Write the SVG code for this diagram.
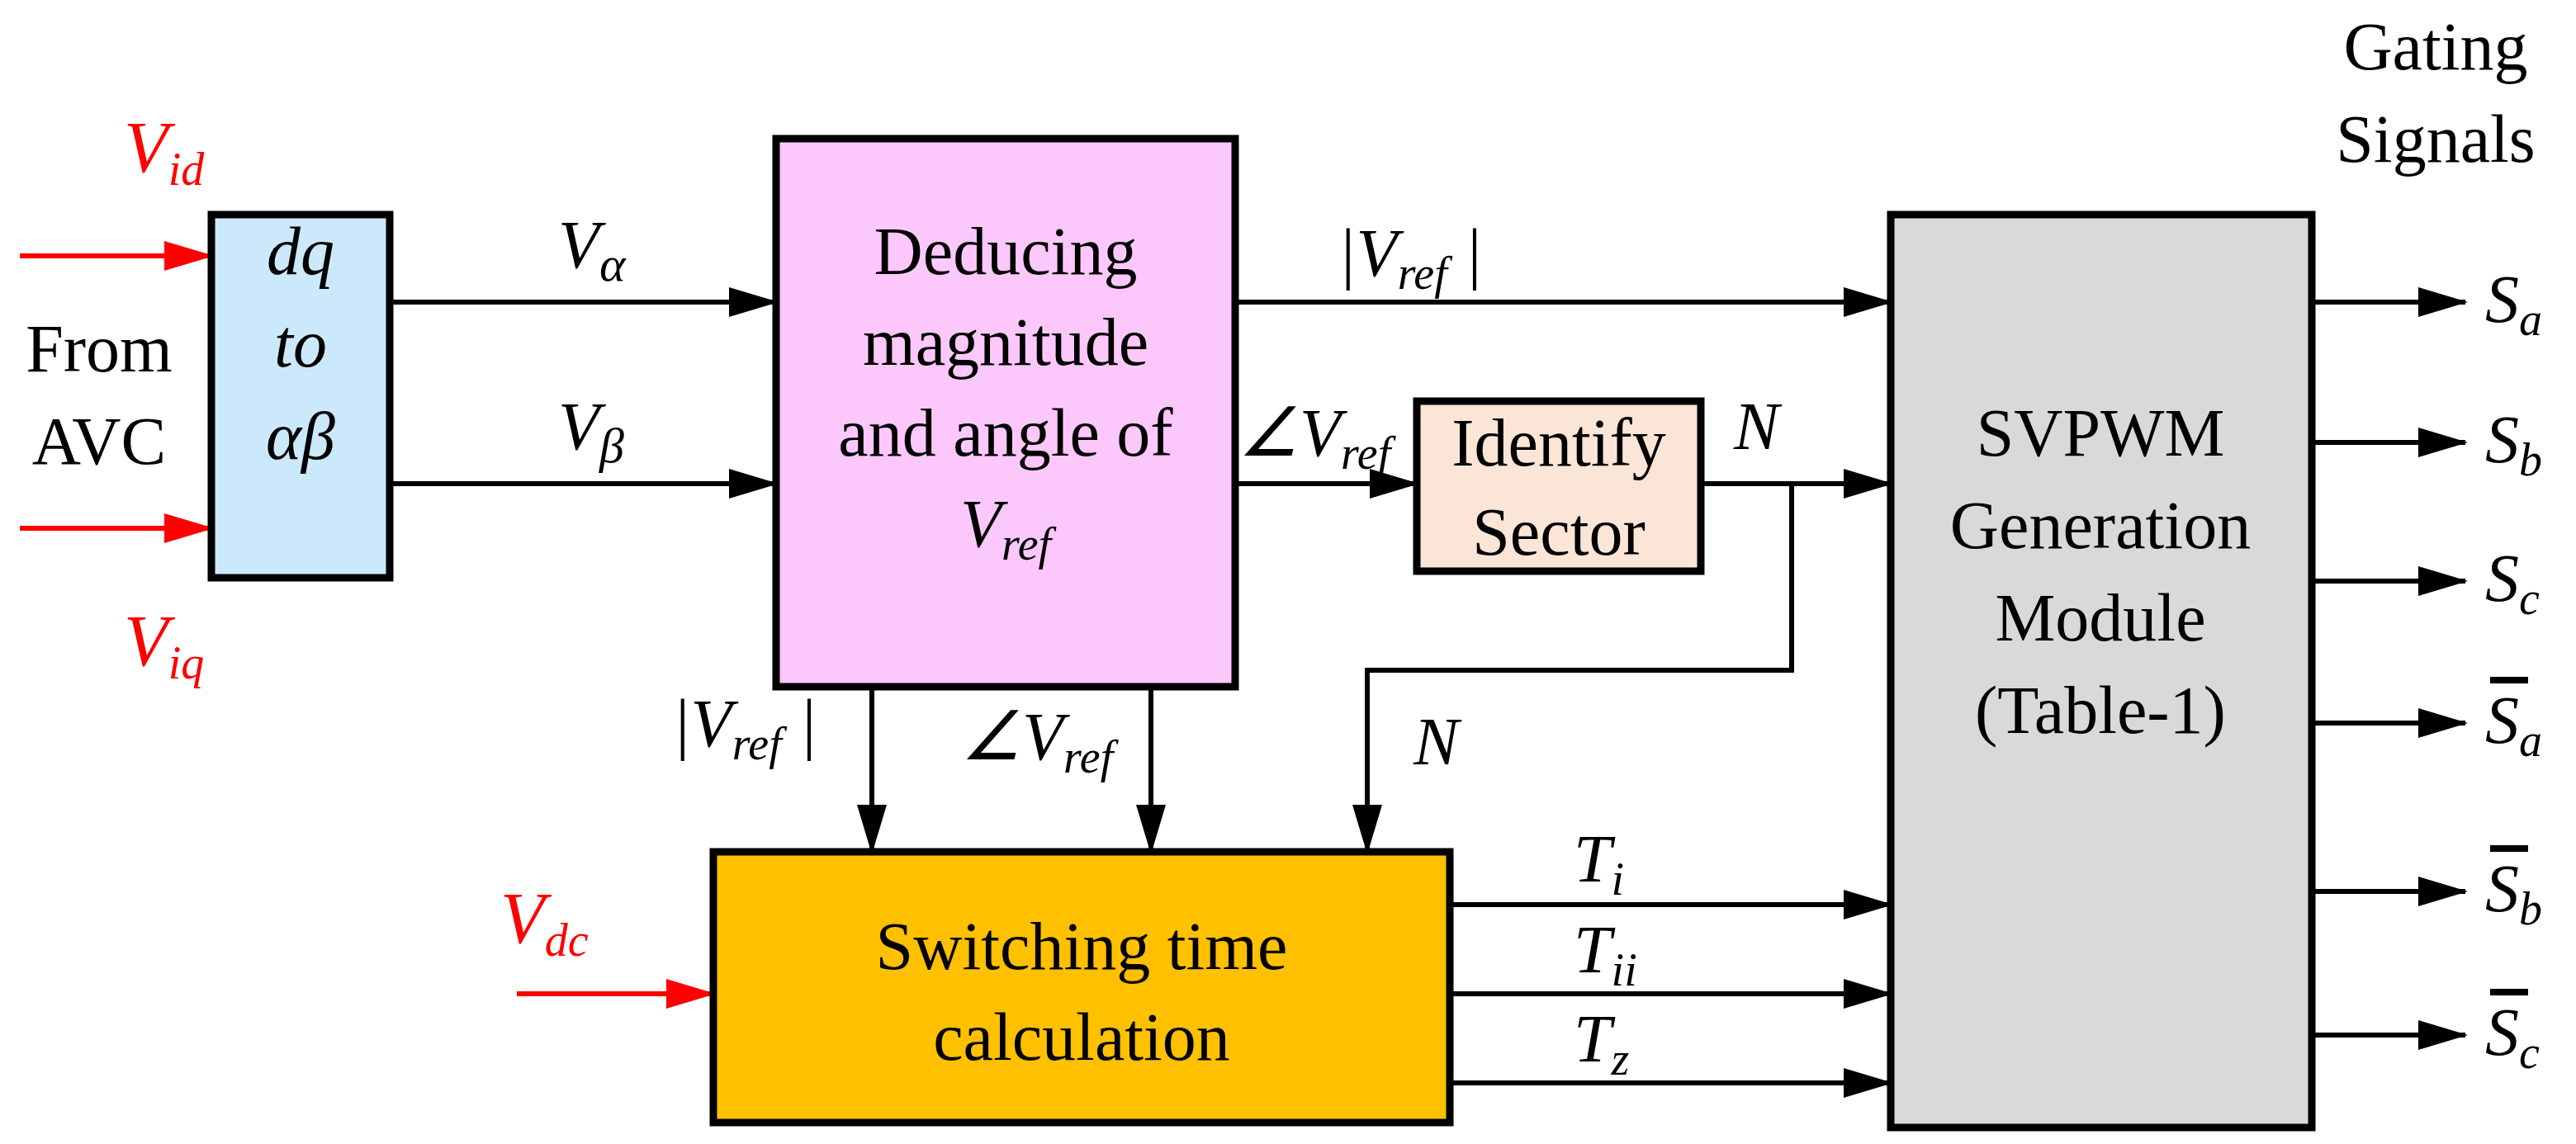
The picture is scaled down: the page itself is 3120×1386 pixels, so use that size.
<svg xmlns="http://www.w3.org/2000/svg" width="3120" height="1386" viewBox="0 0 3120 1386">
<defs>
<marker id="ah" markerWidth="10" markerHeight="6" refX="9.5" refY="3" orient="auto" markerUnits="strokeWidth"><path d="M0,0 L10,3 L0,6 Z" fill="#000"/></marker>
<marker id="ahr" markerWidth="10" markerHeight="6" refX="9.5" refY="3" orient="auto" markerUnits="strokeWidth"><path d="M0,0 L10,3 L0,6 Z" fill="#ff0000"/></marker>
<style>
text{font-family:"Liberation Serif",serif;font-size:82px;fill:#000}
.c{text-anchor:middle}
.i{font-style:italic}
.r{fill:#ff0000;font-size:88px}
.s{font-size:56px}
.box{stroke:#000;stroke-width:9}
.ln{stroke:#000;stroke-width:6;fill:none;marker-end:url(#ah)}
.lr{stroke:#ff0000;stroke-width:6;fill:none;marker-end:url(#ahr)}
</style>
</defs>
<rect width="3120" height="1386" fill="#fff"/>
<g id="connectors">
<path class="lr" d="M24,310 H256"/>
<path class="lr" d="M24,640 H256"/>
<path class="lr" d="M626,1204 H864"/>
<path class="ln" d="M472,366 H940"/>
<path class="ln" d="M472,586 H940"/>
<path class="ln" d="M1496,366 H2290"/>
<path class="ln" d="M1496,586 H1716"/>
<path class="ln" d="M2060,586 H2290"/>
<path class="ln" d="M2170,586 V812 H1656 V1032"/>
<path class="ln" d="M1056,832 V1032"/>
<path class="ln" d="M1394,832 V1032"/>
<path class="ln" d="M1756,1096 H2290"/>
<path class="ln" d="M1756,1204 H2290"/>
<path class="ln" d="M1756,1312 H2290"/>
<path class="ln" d="M2800,366 H2986"/>
<path class="ln" d="M2800,536 H2986"/>
<path class="ln" d="M2800,704 H2986"/>
<path class="ln" d="M2800,876 H2986"/>
<path class="ln" d="M2800,1080 H2986"/>
<path class="ln" d="M2800,1254 H2986"/>
</g>
<g id="labels">
<text class="c" x="2950" y="84">Gating</text>
<text class="c" x="2950" y="196">Signals</text>
<text class="c" x="120" y="450">From</text>
<text class="c" x="120" y="562">AVC</text>
<text class="i r" x="150" y="208">V<tspan class="s" dy="16">id</tspan></text>
<text class="i r" x="150" y="806">V<tspan class="s" dy="16">iq</tspan></text>
<text class="i r" x="606" y="1142">V<tspan class="s" dy="16">dc</tspan></text>
<text class="i" x="676" y="324">V<tspan dy="16" font-size="60">α</tspan></text>
<text class="i" x="676" y="544">V<tspan dy="16" font-size="60">β</tspan></text>
<text class="i" x="1620" y="334">|V<tspan class="s" dy="16">ref</tspan><tspan dy="-16"> |</tspan></text>
<text class="i" x="1500" y="552">∠V<tspan class="s" dy="16">ref</tspan></text>
<text class="i" x="2100" y="544">N</text>
<text class="i" x="1712" y="926">N</text>
<text class="i" x="814" y="904">|V<tspan class="s" dy="16">ref</tspan><tspan dy="-16"> |</tspan></text>
<text class="i" x="1164" y="920">∠V<tspan class="s" dy="16">ref</tspan></text>
<text class="i" x="1906" y="1068">T<tspan class="s" dy="16">i</tspan></text>
<text class="i" x="1906" y="1178">T<tspan class="s" dy="16">ii</tspan></text>
<text class="i" x="1906" y="1286">T<tspan class="s" dy="16">z</tspan></text>
<text class="i" x="3010" y="390">S<tspan class="s" dy="16">a</tspan></text>
<text class="i" x="3010" y="560">S<tspan class="s" dy="16">b</tspan></text>
<text class="i" x="3010" y="728">S<tspan class="s" dy="16">c</tspan></text>
<text class="i" x="3010" y="900">S<tspan class="s" dy="16">a</tspan></text>
<text class="i" x="3010" y="1104">S<tspan class="s" dy="16">b</tspan></text>
<text class="i" x="3010" y="1278">S<tspan class="s" dy="16">c</tspan></text>
<path d="M3016,824 H3062 M3016,1028 H3062 M3016,1202 H3062" stroke="#000" stroke-width="8"/>
</g>
<g id="dq">
<rect class="box" x="256" y="260" width="216" height="440" fill="#cce9fb"/>
<text class="c i" x="364" y="332">dq</text>
<text class="c i" x="364" y="444">to</text>
<text class="c i" x="364" y="556">αβ</text>
</g>
<g id="deduce">
<rect class="box" x="940" y="168" width="556" height="664" fill="#fcc8fc"/>
<text class="c" x="1218" y="332">Deducing</text>
<text class="c" x="1218" y="442">magnitude</text>
<text class="c" x="1218" y="552">and angle of</text>
<text class="c i" x="1218" y="662">V<tspan class="s" dy="16">ref</tspan></text>
</g>
<g id="sector">
<rect class="box" x="1716" y="486" width="344" height="206" fill="#fbe5d6"/>
<text class="c" x="1888" y="564">Identify</text>
<text class="c" x="1888" y="672">Sector</text>
</g>
<g id="switching">
<rect class="box" x="864" y="1032" width="892" height="328" fill="#ffc000"/>
<text class="c" x="1310" y="1174">Switching time</text>
<text class="c" x="1310" y="1284">calculation</text>
</g>
<g id="svpwm">
<rect class="box" x="2290" y="260" width="510" height="1106" fill="#d9d9d9"/>
<text class="c" x="2544" y="552">SVPWM</text>
<text class="c" x="2544" y="664">Generation</text>
<text class="c" x="2544" y="776">Module</text>
<text class="c" x="2544" y="888">(Table-1)</text>
</g>
</svg>
